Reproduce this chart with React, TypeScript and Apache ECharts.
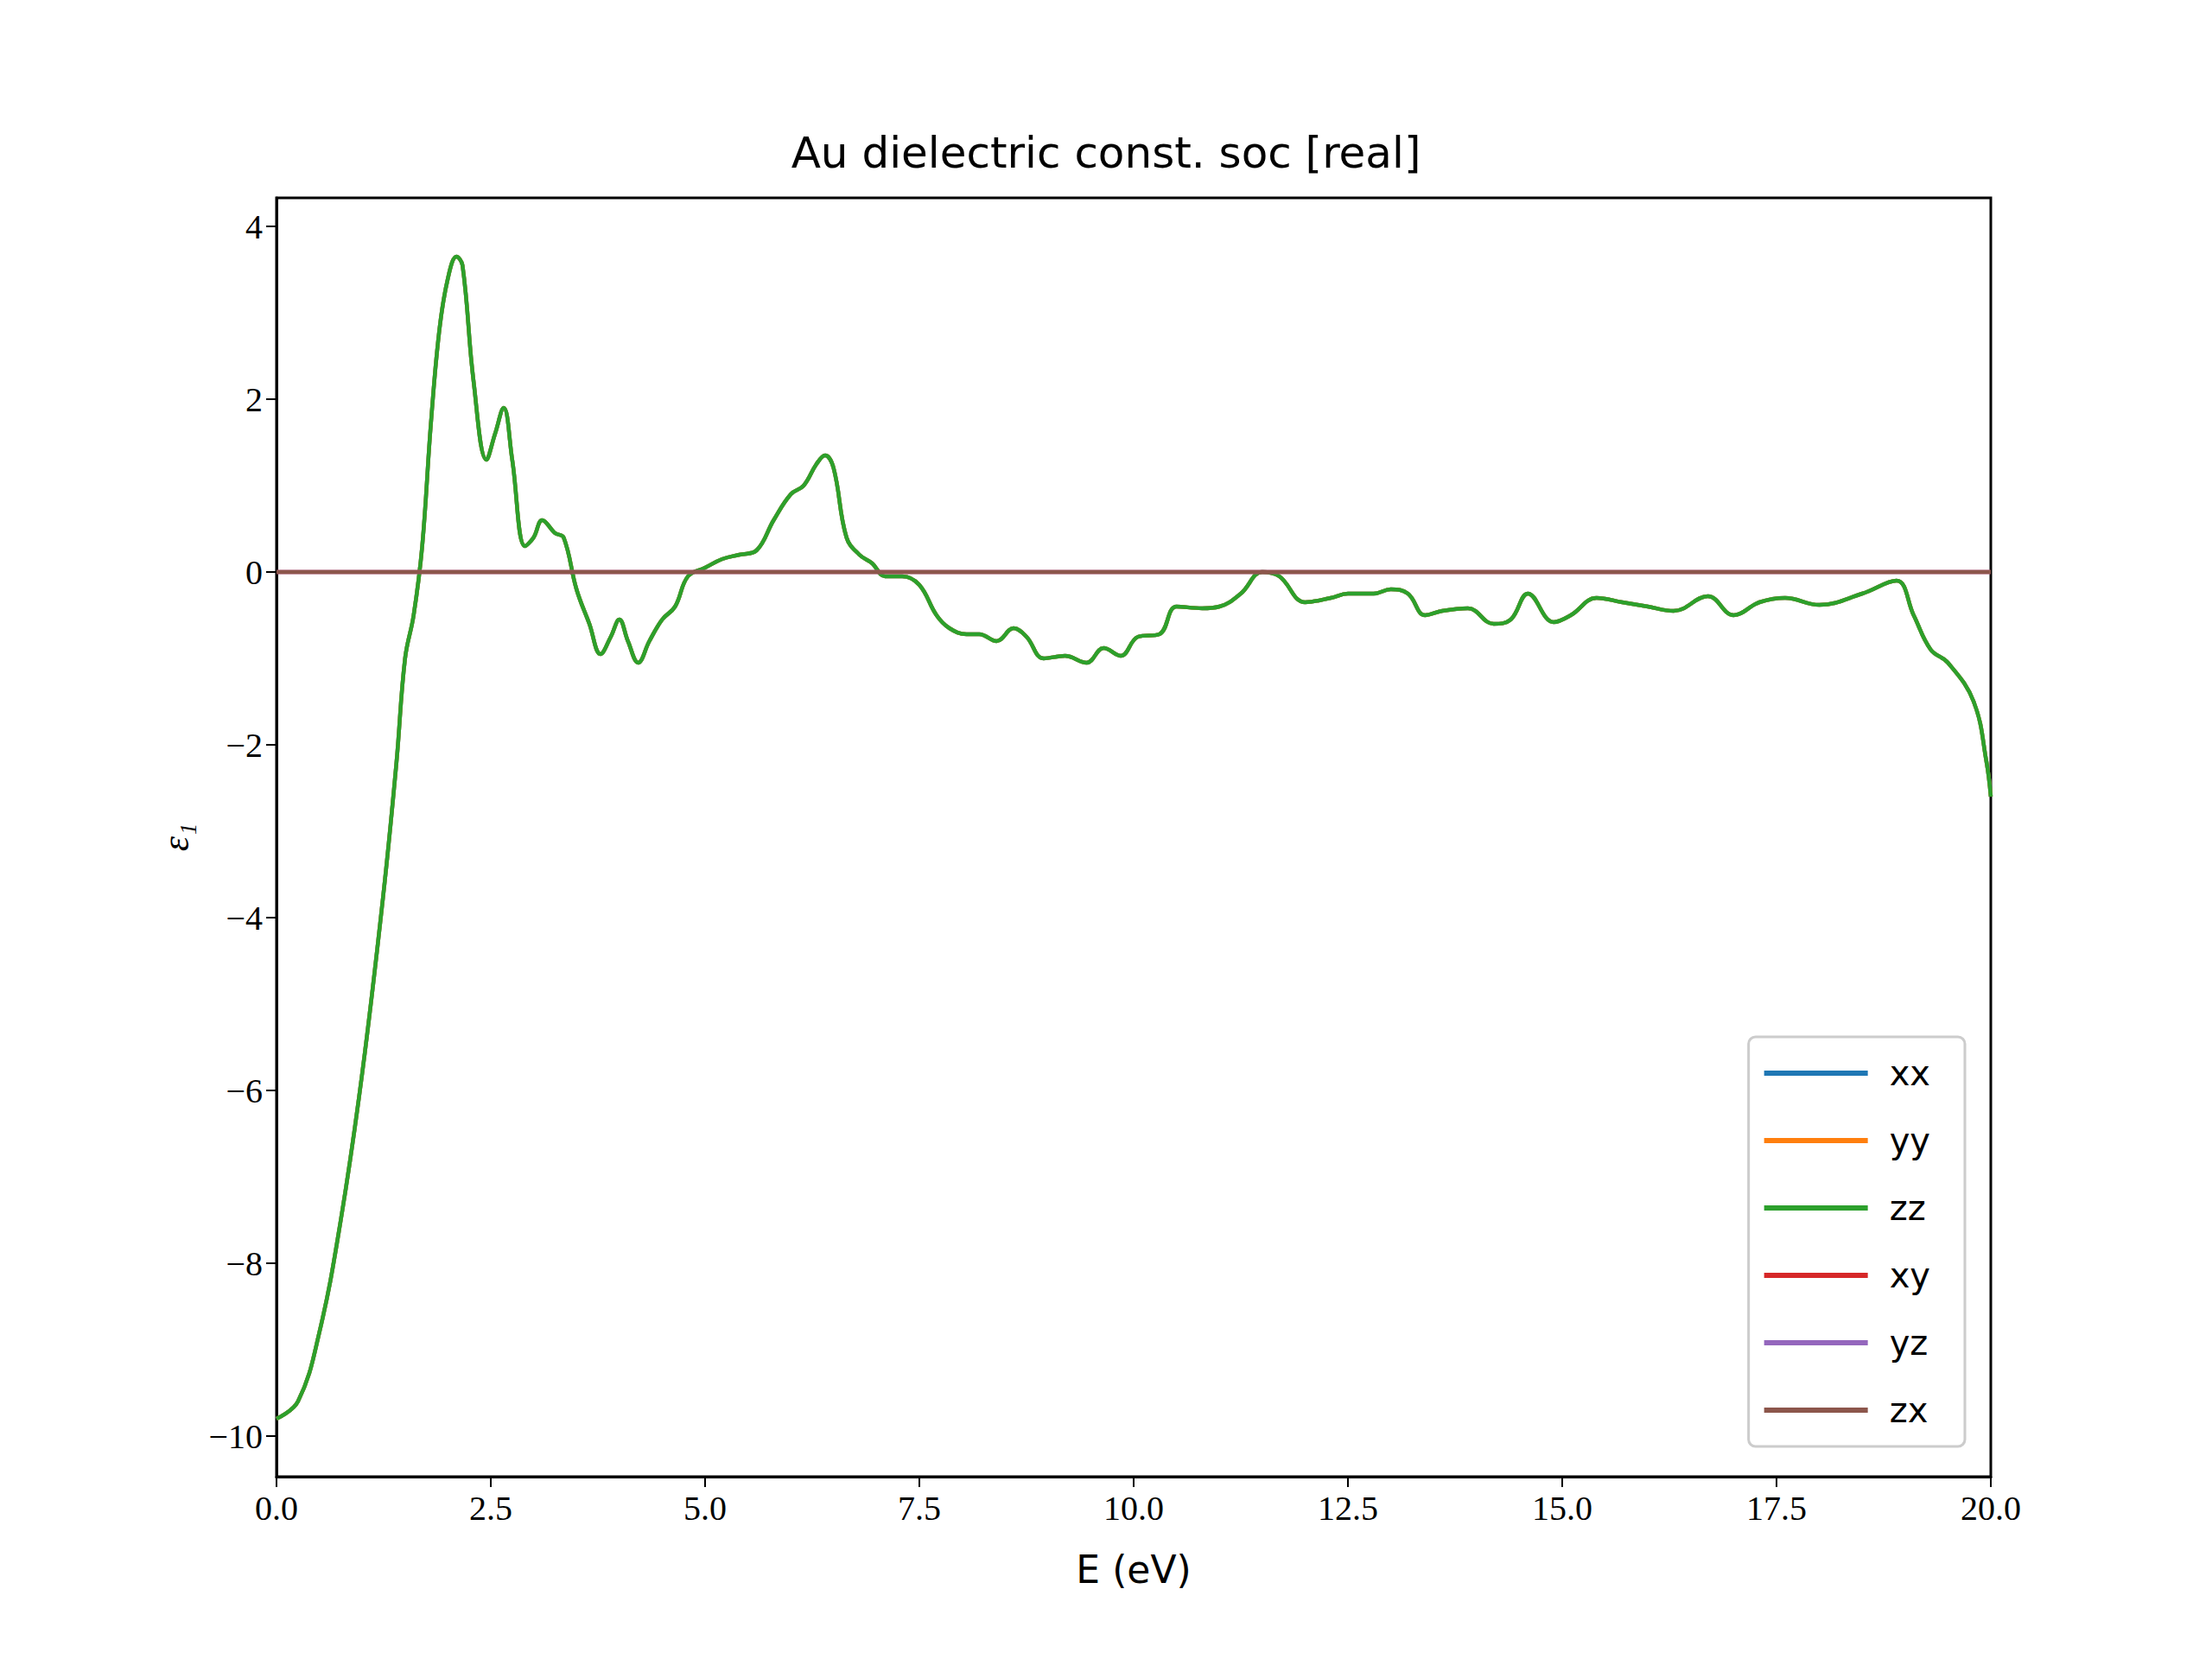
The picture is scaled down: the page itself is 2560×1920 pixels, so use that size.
import { useEffect, useRef } from "react";
import * as echarts from "echarts";

const energy = [0, 0.25, 0.5, 0.75, 1.0, 1.25, 1.4, 1.5, 1.6, 1.7, 1.8, 1.9, 2.0, 2.1, 2.17, 2.3, 2.45, 2.55, 2.65, 2.75, 2.9, 3.0, 3.1, 3.25, 3.35, 3.5, 3.65, 3.78, 3.9, 4.0, 4.1, 4.22, 4.35, 4.5, 4.65, 4.8, 5.0, 5.2, 5.4, 5.6, 5.8, 6.0, 6.15, 6.3, 6.4, 6.5, 6.65, 6.8, 6.95, 7.1, 7.3, 7.5, 7.7, 7.85, 8.05, 8.2, 8.4, 8.6, 8.75, 8.95, 9.2, 9.45, 9.65, 9.85, 10.05, 10.3, 10.5, 10.8, 11.0, 11.25, 11.5, 11.7, 12.0, 12.3, 12.5, 12.8, 13.0, 13.2, 13.4, 13.6, 13.9, 14.2, 14.4, 14.6, 14.9, 15.1, 15.4, 15.7, 16.0, 16.3, 16.7, 17.0, 17.3, 17.6, 18.0, 18.5, 18.9, 19.1, 19.3, 19.5, 19.8, 19.95, 20.0];
const epsDiag = [-9.8, -9.6, -8.8, -7.5, -5.8, -3.7, -2.2, -1.0, -0.5, 0.3, 1.7, 2.8, 3.4, 3.65, 3.55, 2.2, 1.3, 1.6, 1.9, 1.3, 0.3, 0.4, 0.6, 0.45, 0.4, -0.2, -0.6, -0.95, -0.75, -0.55, -0.8, -1.05, -0.8, -0.55, -0.4, -0.05, 0.05, 0.15, 0.2, 0.25, 0.6, 0.9, 1.0, 1.25, 1.35, 1.2, 0.4, 0.2, 0.1, -0.05, -0.05, -0.15, -0.5, -0.65, -0.72, -0.72, -0.8, -0.65, -0.75, -1.0, -0.97, -1.05, -0.88, -0.97, -0.75, -0.72, -0.4, -0.42, -0.4, -0.25, 0.0, -0.05, -0.35, -0.3, -0.25, -0.25, -0.2, -0.25, -0.5, -0.45, -0.42, -0.6, -0.55, -0.25, -0.58, -0.5, -0.3, -0.35, -0.4, -0.45, -0.28, -0.5, -0.35, -0.3, -0.38, -0.25, -0.1, -0.5, -0.9, -1.05, -1.5, -2.2, -2.6];
const offDiag = energy.map(() => 0);
const components = ["xx", "yy", "zz", "xy", "yz", "zx"];
const colors = ["#1f77b4", "#ff7f0e", "#2ca02c", "#d62728", "#9467bd", "#8c564b"];
const yTicks = [-10, -8, -6, -4, -2, 0, 2, 4];

const App = () => {
  const ref = useRef<HTMLDivElement | null>(null);
  useEffect(() => {
    document.body.style.margin = "0";
    if (!ref.current) return;
    const chart = echarts.init(ref.current, null, { renderer: "svg" });
    const serif = "Liberation Serif";
    chart.setOption({
      animation: false,
      backgroundColor: "#fff",
      title: {
        text: "Au dielectric const. soc [real]",
        left: "center",
        top: 147,
        textStyle: { fontFamily: "DejaVu Sans", fontSize: 50, fontWeight: "normal", color: "#000" },
      },
      grid: { left: 320, right: 256, top: 229, bottom: 211, show: true, borderColor: "#000", borderWidth: 3 },
      legend: {
        orient: "vertical",
        right: 286,
        top: 1200,
        padding: [22, 40, 22, 18],
        itemWidth: 120,
        itemHeight: 6,
        itemGap: 38,
        borderColor: "#ccc",
        borderWidth: 3,
        borderRadius: 8,
        backgroundColor: "rgba(255,255,255,0.8)",
        icon: "rect",
        textStyle: { fontFamily: "DejaVu Sans", fontSize: 40, color: "#000", padding: [0, 0, 0, 20] },
        data: components,
      },
      xAxis: {
        type: "value",
        min: 0,
        max: 20,
        interval: 2.5,
        name: "E (eV)",
        nameLocation: "middle",
        nameGap: 85,
        nameTextStyle: { fontFamily: "DejaVu Sans", fontSize: 44, color: "#000" },
        axisLine: { onZero: false, lineStyle: { color: "#000", width: 3 } },
        axisTick: { length: 12, lineStyle: { color: "#000", width: 2 } },
        axisLabel: { fontFamily: serif, fontSize: 40, color: "#000", margin: 16, formatter: (v: number) => v.toFixed(1) },
        splitLine: { show: false },
      },
      yAxis: {
        type: "value",
        min: -10.47,
        max: 4.33,
        name: "ε₁",
        nameLocation: "middle",
        nameRotate: 90,
        nameGap: 95,
        nameTextStyle: { fontFamily: serif, fontSize: 44, color: "#000", fontStyle: "italic" },
        axisLine: { onZero: false, lineStyle: { color: "#000", width: 3 } },
        axisTick: { length: 12, customValues: yTicks, lineStyle: { color: "#000", width: 2 } },
        axisLabel: {
          fontFamily: serif, fontSize: 40, color: "#000", margin: 16, customValues: yTicks,
          formatter: (v: number) => (v < 0 ? "\u2212" + Math.abs(v) : String(v)),
        },
        splitLine: { show: false },
      },
      series: components.map((c, i) => ({
        name: c,
        type: "line",
        smooth: 0.4,
        showSymbol: false,
        color: colors[i],
        lineStyle: { width: 4.5, color: colors[i] },
        data: energy.map((e, j) => [e, i < 3 ? epsDiag[j] : offDiag[j]]),
      })),
    });
    return () => chart.dispose();
  }, []);
  return <div ref={ref} style={{ width: 2560, height: 1920 }} />;
};

export default App;
